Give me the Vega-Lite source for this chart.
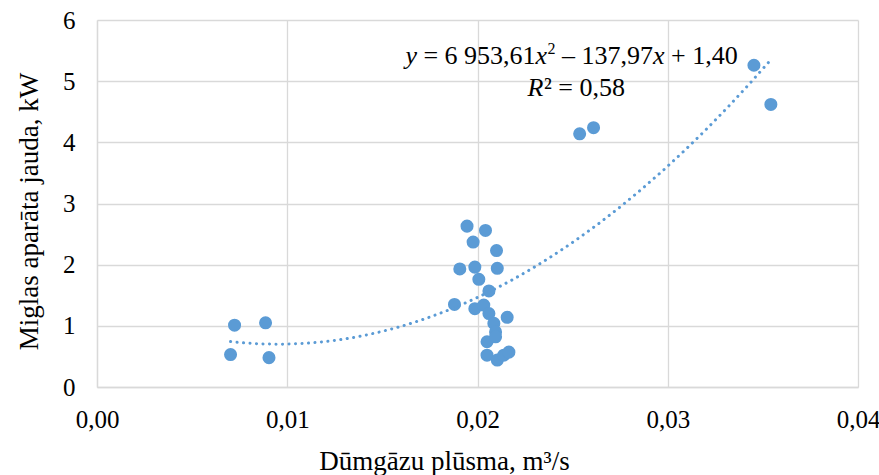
{
  "$schema": "https://vega.github.io/schema/vega-lite/v6.json",
  "width": 761,
  "height": 367,
  "autosize": {"type": "none"},
  "padding": {"left": 97, "top": 20, "right": 21, "bottom": 88},
  "background": "white",
  "config": {
    "view": {"stroke": null},
    "font": "Liberation Serif, Times New Roman, serif",
    "text": {"font": "Liberation Serif, Times New Roman, serif"},
    "axis": {
      "grid": true,
      "gridColor": "#d9d9d9",
      "gridWidth": 1.3,
      "domainColor": "#d9d9d9",
      "domainWidth": 1.3,
      "ticks": false,
      "labelFont": "Liberation Serif, Times New Roman, serif",
      "labelFontSize": 25,
      "labelColor": "#000000",
      "titleFont": "Liberation Serif, Times New Roman, serif",
      "titleFontSize": 27,
      "titleFontWeight": "normal",
      "titleColor": "#000000"
    }
  },
  "datasets": {
    "merijumi": [
      {"plusma": 0.00702, "jauda": 0.53},
      {"plusma": 0.00723, "jauda": 1.01},
      {"plusma": 0.00886, "jauda": 1.05},
      {"plusma": 0.00904, "jauda": 0.48},
      {"plusma": 0.01879, "jauda": 1.35},
      {"plusma": 0.01907, "jauda": 1.93},
      {"plusma": 0.01945, "jauda": 2.63},
      {"plusma": 0.01977, "jauda": 2.37},
      {"plusma": 0.01986, "jauda": 1.96},
      {"plusma": 0.01986, "jauda": 1.28},
      {"plusma": 0.02007, "jauda": 1.76},
      {"plusma": 0.02033, "jauda": 1.34},
      {"plusma": 0.02042, "jauda": 2.56},
      {"plusma": 0.0206, "jauda": 1.57},
      {"plusma": 0.0206, "jauda": 1.2},
      {"plusma": 0.0205, "jauda": 0.74},
      {"plusma": 0.0205, "jauda": 0.52},
      {"plusma": 0.02086, "jauda": 1.04},
      {"plusma": 0.02095, "jauda": 0.9},
      {"plusma": 0.02095, "jauda": 0.82},
      {"plusma": 0.021, "jauda": 2.23},
      {"plusma": 0.02104, "jauda": 1.94},
      {"plusma": 0.02104, "jauda": 0.44},
      {"plusma": 0.02138, "jauda": 0.52},
      {"plusma": 0.02156, "jauda": 1.14},
      {"plusma": 0.02165, "jauda": 0.57},
      {"plusma": 0.02537, "jauda": 4.14},
      {"plusma": 0.0261, "jauda": 4.24},
      {"plusma": 0.03453, "jauda": 5.26},
      {"plusma": 0.03542, "jauda": 4.62}
    ],
    "vienadojums": [
      {"teksts": "y"}
    ]
  },
  "layer": [
    {
      "data": {"name": "merijumi"},
      "mark": {"type": "circle", "size": 170, "color": "#5B9BD5", "opacity": 1},
      "encoding": {
        "x": {
          "field": "plusma",
          "type": "quantitative",
          "scale": {"domain": [0, 0.04], "nice": false, "zero": false},
          "axis": {
            "values": [0, 0.01, 0.02, 0.03, 0.04],
            "labelExpr": "replace(format(datum.value, '.2f'), '.', ',')",
            "labelFlush": false,
            "labelPadding": 20,
            "title": "Dūmgāzu plūsma, m³/s",
            "titleX": 347,
            "titleY": 82,
            "titleAlign": "center",
            "titleBaseline": "alphabetic"
          }
        },
        "y": {
          "field": "jauda",
          "type": "quantitative",
          "scale": {"domain": [0, 6], "nice": false},
          "axis": {
            "values": [0, 1, 2, 3, 4, 5, 6],
            "labelExpr": "format(datum.value, 'd')",
            "labelPadding": 22,
            "title": "Miglas aparāta jauda, kW",
            "titleAngle": -90,
            "titleX": -60,
            "titleY": 191,
            "titleAlign": "center",
            "titleBaseline": "alphabetic"
          }
        }
      }
    },
    {
      "data": {"name": "merijumi"},
      "transform": [
        {"regression": "jauda", "on": "plusma", "method": "poly", "order": 2}
      ],
      "mark": {
        "type": "line",
        "color": "#5B9BD5",
        "strokeWidth": 3,
        "strokeDash": [0.1, 6.4],
        "strokeCap": "round"
      },
      "encoding": {
        "x": {"field": "plusma", "type": "quantitative"},
        "y": {"field": "jauda", "type": "quantitative"}
      }
    },
    {
      "data": {"name": "vienadojums"},
      "encoding": {
        "x": {"datum": 0.016211, "type": "quantitative"},
        "y": {"datum": 5.28, "type": "quantitative"}
      },
      "layer": [
        {"mark": {"type": "text", "text": "y", "align": "left", "baseline": "alphabetic", "fontSize": 26, "fontStyle": "italic", "color": "#000000"}},
        {"mark": {"type": "text", "text": "= 6 953,61", "align": "left", "baseline": "alphabetic", "fontSize": 26, "dx": 18, "color": "#000000"}},
        {"mark": {"type": "text", "text": "x", "align": "left", "baseline": "alphabetic", "fontSize": 26, "fontStyle": "italic", "dx": 130.2, "color": "#000000"}},
        {"mark": {"type": "text", "text": "2", "align": "left", "baseline": "alphabetic", "fontSize": 16, "dx": 142.2, "dy": -10.5, "color": "#000000"}},
        {"mark": {"type": "text", "text": "– 137,97", "align": "left", "baseline": "alphabetic", "fontSize": 26, "dx": 156.7, "color": "#000000"}},
        {"mark": {"type": "text", "text": "x", "align": "left", "baseline": "alphabetic", "fontSize": 26, "fontStyle": "italic", "dx": 247.7, "color": "#000000"}},
        {"mark": {"type": "text", "text": "+ 1,40", "align": "left", "baseline": "alphabetic", "fontSize": 26, "dx": 265.7, "color": "#000000"}}
      ]
    },
    {
      "data": {"name": "vienadojums"},
      "encoding": {
        "x": {"datum": 0.022632, "type": "quantitative"},
        "y": {"datum": 4.757, "type": "quantitative"}
      },
      "layer": [
        {"mark": {"type": "text", "text": "R", "align": "left", "baseline": "alphabetic", "fontSize": 26, "fontStyle": "italic", "color": "#000000"}},
        {"mark": {"type": "text", "text": "² = 0,58", "align": "left", "baseline": "alphabetic", "fontSize": 26, "dx": 16.5, "color": "#000000"}}
      ]
    }
  ]
}
